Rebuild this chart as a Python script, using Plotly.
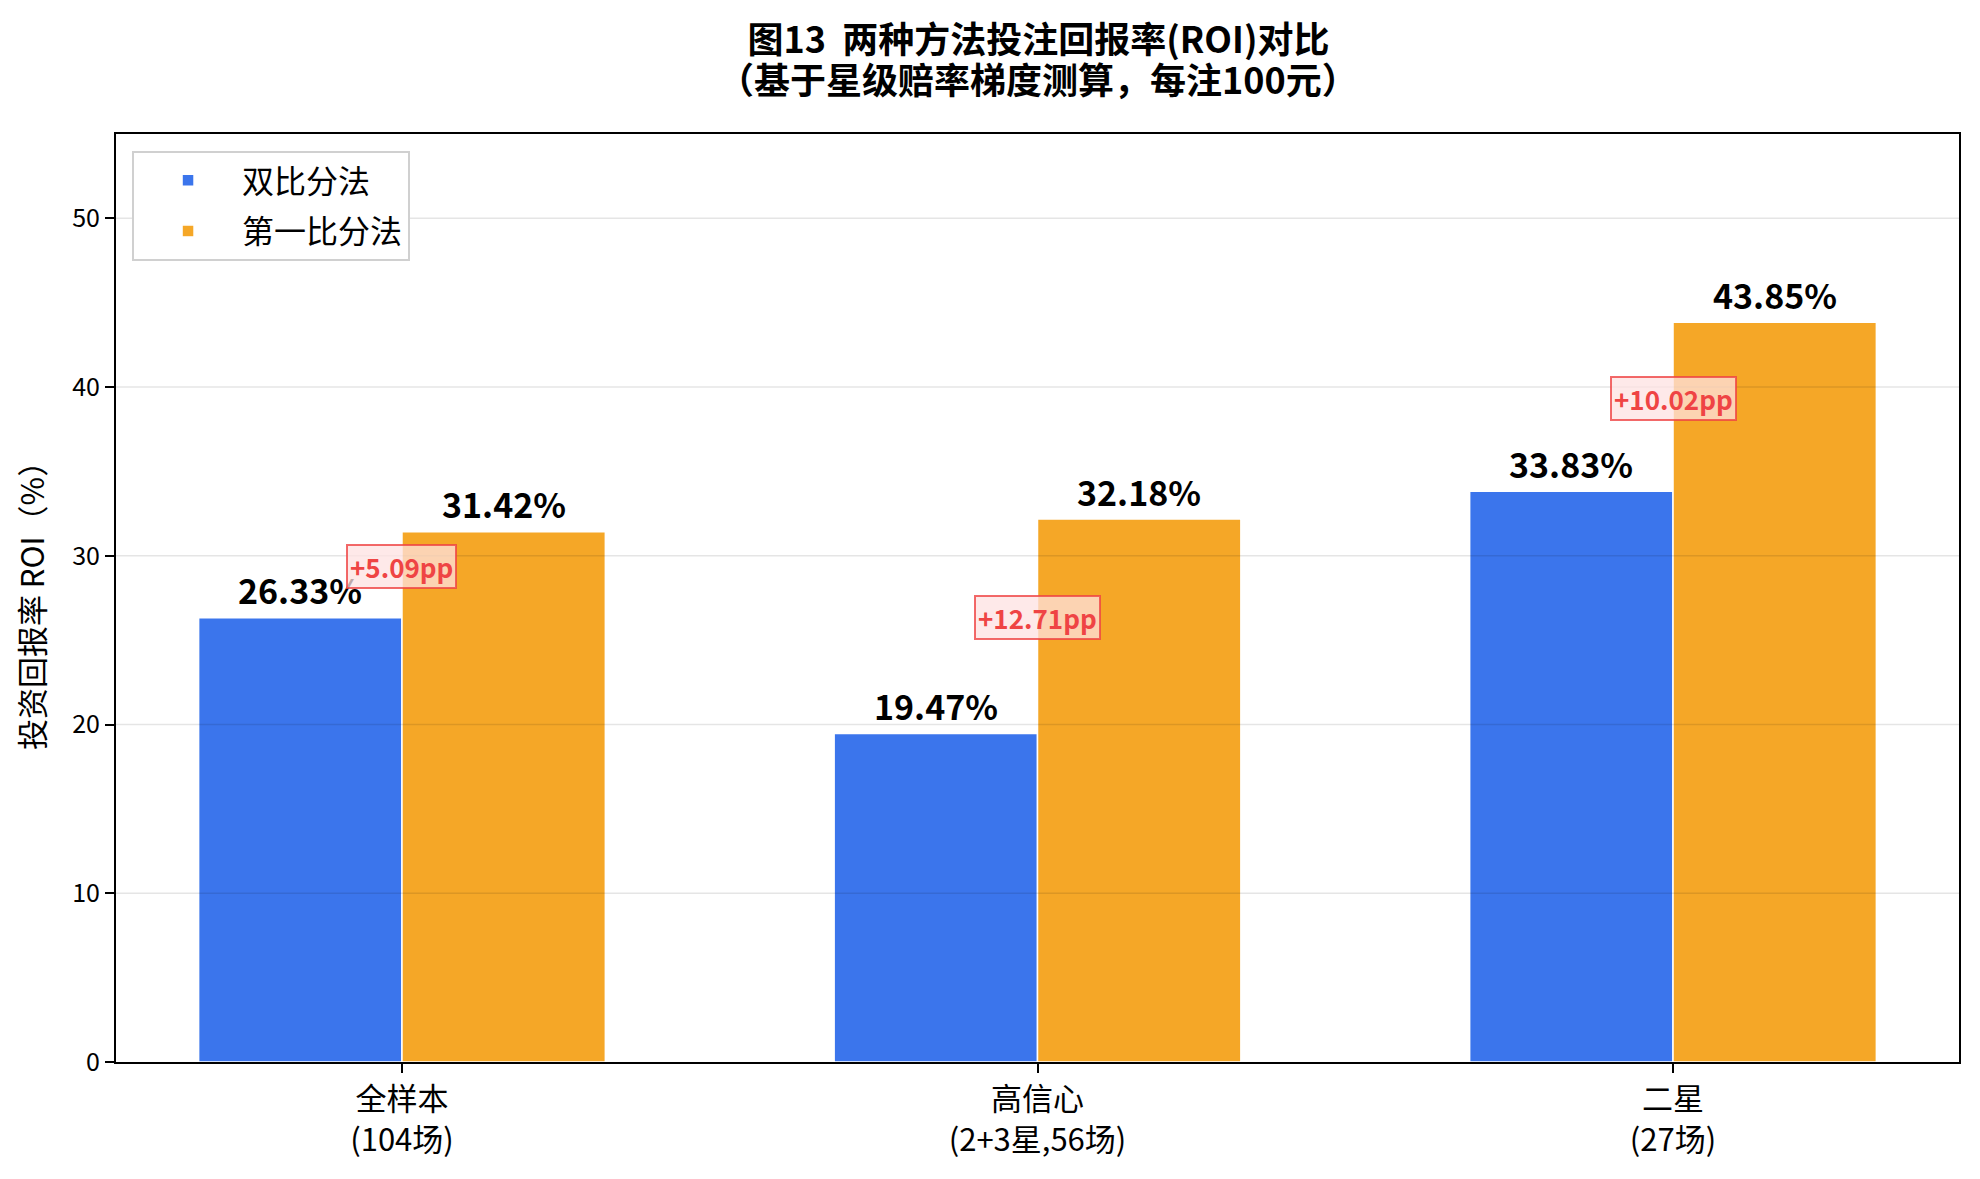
import plotly.graph_objects as go

categories = ["全样本<br>(104场)", "高信心<br>(2+3星,56场)", "二星<br>(27场)"]
series_names = ["双比分法", "第一比分法"]
roi_double = [26.33, 19.47, 33.83]
roi_first = [31.42, 32.18, 43.85]
y_ticks = [0, 10, 20, 30, 40, 50]
title_line1 = "图13  两种方法投注回报率(ROI)对比"
title_line2 = "（基于星级赔率梯度测算，每注100元）"

FONT = "Noto Sans CJK SC"
BLUE = "#3B75EC"
ORANGE = "#F5A727"

fig = go.Figure()
fig.add_trace(go.Bar(x=categories, y=roi_double, name=series_names[0], legendgroup="a",
                     marker=dict(color=BLUE, line=dict(color="white", width=1.5))))
fig.add_trace(go.Bar(x=categories, y=roi_first, name=series_names[1], legendgroup="b",
                     marker=dict(color=ORANGE, line=dict(color="white", width=1.5))))

W, H = 1964, 1163
ML, MR, MT, MB = 108, 11, 126, 108
PH = H - MT - MB

annotations = [dict(x=0.5, y=(H - MB - 69.5) / PH, xref="paper", yref="paper",
                    xanchor="center", yanchor="middle", showarrow=False,
                    text=f"<b>{title_line2}</b>",
                    font=dict(family=FONT, size=36, color="black"))]
for i, c in enumerate(categories):
    for v, off in ((roi_double[i], -0.16), (roi_first[i], 0.16)):
        annotations.append(dict(x=i + off, y=v, xref="x", yref="y",
                                text=f"<b>{v:.2f}%</b>", showarrow=False,
                                yanchor="middle", yshift=28,
                                font=dict(family=FONT, size=34, color="black")))
    diff = roi_first[i] - roi_double[i]
    annotations.append(dict(x=i, y=(roi_first[i] + roi_double[i]) / 2 + 0.5,
                            xref="x", yref="y", text=f"<b>+{diff:.2f}pp</b>",
                            showarrow=False, yanchor="middle",
                            font=dict(family=FONT, size=26, color="#EF4444"),
                            bgcolor="rgba(254,226,226,0.75)",
                            bordercolor="rgba(239,68,68,0.8)", borderwidth=2,
                            borderpad=2))

shapes = [dict(type="line", xref="paper", yref="y", x0=0, x1=1, y0=t, y1=t,
               line=dict(color="rgba(0,0,0,0.1)", width=1.5), layer="above")
          for t in y_ticks[1:]]

fig.update_layout(
    width=W, height=H,
    margin=dict(l=ML, r=MR, t=MT, b=MB),
    paper_bgcolor="white", plot_bgcolor="white",
    font=dict(family=FONT, color="black"),
    title=dict(text=f"<b>{title_line1}</b>",
               x=1030.5 / W, xanchor="center", y=1 - 32 / H, yanchor="middle",
               font=dict(family=FONT, size=36, color="black")),
    barmode="group", bargap=0.36, bargroupgap=0,
    legend=dict(x=0.0087, y=0.9817, xanchor="left", yanchor="top",
                bgcolor="white", bordercolor="#D0D0D0", borderwidth=2,
                font=dict(family=FONT, size=32, color="black"),
                itemwidth=98, tracegroupgap=6),
    annotations=annotations,
    shapes=shapes,
    showlegend=True,
)
fig.update_xaxes(range=[-0.45, 2.45], showline=True, mirror=True, linecolor="black",
                 linewidth=2, ticks="outside", ticklen=9, tickwidth=1.5,
                 tickcolor="black", tickfont=dict(family=FONT, size=31, color="black"),
                 showgrid=False)
fig.update_yaxes(range=[0, 55], tickvals=y_ticks, showline=True, mirror=True,
                 linecolor="black", linewidth=2, ticks="outside", ticklen=9,
                 tickwidth=1.5, tickcolor="black",
                 tickfont=dict(family=FONT, size=25, color="black"),
                 showgrid=False, zeroline=False,
                 title=dict(text="投资回报率 ROI（%）", standoff=18,
                            font=dict(family=FONT, size=31, color="black")))

fig.write_html("out.html")
